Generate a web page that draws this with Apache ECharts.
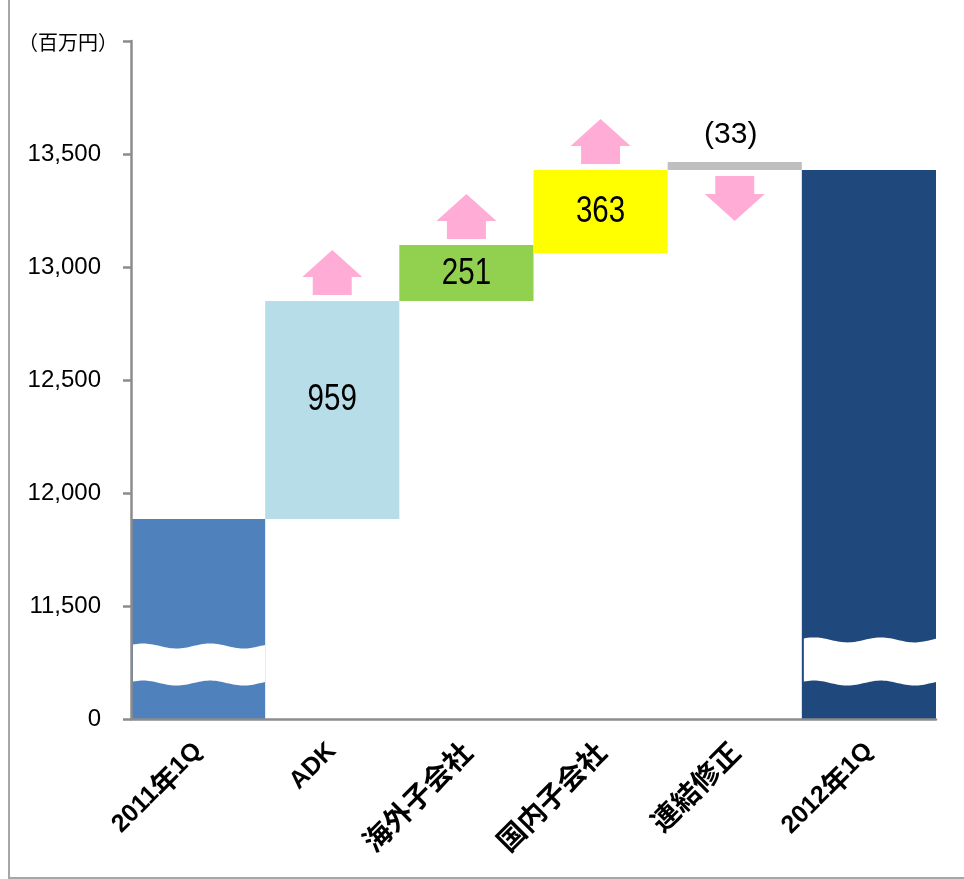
<!DOCTYPE html>
<html>
<head>
<meta charset="utf-8">
<script src="https://cdn.jsdelivr.net/npm/echarts@6/dist/echarts.min.js"></script>
<style>
html,body{margin:0;padding:0;background:#fff;}
#chart{width:964px;height:879px;}
</style>
</head>
<body>
<div id="chart"></div>
<script>
// ---- data ----
const categories = ['2011年1Q', 'ADK', '海外子会社', '国内子会社', '連結修正', '2012年1Q'];
const barLow  = [11000, 11885, 12850, 13062, 13429, 11000];
const barHigh = [11885, 12850, 13097, 13429, 13465, 13429];
const changeLabels = ['', '959', '251', '363', '(33)', ''];
const arrowDir = [0, 1, 1, 1, -1, 0];
const barColors = ['#4F81BD', '#B7DEE8', '#92D050', '#FFFF00', '#BFBFBF', '#1F497D'];
const breakTop = [11323, null, null, null, null, 11350];
const breakBottom = [11159, null, null, null, null, 11159];
const yTicks = {11000: '0', 14000: ''};

const chart = echarts.init(document.getElementById('chart'));

function fmtY(v) {
  if (yTicks[v] !== undefined) return yTicks[v];
  return v.toLocaleString('en-US');
}

function xLabel(v) {
  let out = '';
  const parts = v.match(/[\u3000-\u9fff]+|[^\u3000-\u9fff]+/g) || [];
  parts.forEach(p => {
    out += /[\u3000-\u9fff]/.test(p) ? '{c|' + p + '}' : '{a|' + p + '}';
  });
  return out;
}

function renderBreak(params, api) {
  const i = api.value(0);
  const t = api.coord([i, api.value(1)]);
  const b = api.coord([i, api.value(2)]);
  const w = api.size([1, 0])[0];
  const x0 = t[0] - w / 2 + 2, x1 = t[0] + w / 2;
  const P = w / 2, A = 2.5;
  const f = x => A * Math.cos(2 * Math.PI * (x - x0 - 10) / P);
  const pts = [];
  for (let x = x0; x < x1; x += 2) pts.push([x, t[1] - f(x)]);
  pts.push([x1, t[1] - f(x1)]);
  pts.push([x1, b[1] - f(x1)]);
  for (let x = x1; x > x0; x -= 2) pts.push([x, b[1] - f(x)]);
  pts.push([x0, b[1] - f(x0)]);
  return {type: 'polygon', shape: {points: pts}, style: {fill: '#ffffff'}};
}

function renderArrow(params, api) {
  const i = api.value(0), v = api.value(1), dir = api.value(2);
  const c = api.coord([i, v]);
  const cx = c[0], W = 60, S = 39, H = 27, T = 18, gap = 6;
  let pts;
  if (dir > 0) {
    const b = c[1] - gap;
    pts = [[cx - S / 2, b], [cx - S / 2, b - T], [cx - W / 2, b - T], [cx, b - T - H],
           [cx + W / 2, b - T], [cx + S / 2, b - T], [cx + S / 2, b]];
  } else {
    const t = c[1] + gap;
    pts = [[cx - S / 2, t], [cx + S / 2, t], [cx + S / 2, t + T], [cx + W / 2, t + T],
           [cx, t + T + H], [cx - W / 2, t + T], [cx - S / 2, t + T]];
  }
  return {type: 'polygon', shape: {points: pts}, style: {fill: '#FFADD6'}};
}

function renderLabel(params, api) {
  const i = api.value(0);
  const lo = api.coord([i, api.value(1)]);
  const hi = api.coord([i, api.value(2)]);
  const text = changeLabels[i];
  let x = lo[0], y, size, sx;
  if (arrowDir[i] < 0) {
    y = hi[1] - 27; size = 30; sx = 1.0; x -= 4;
  } else {
    y = (lo[1] + hi[1]) / 2 - (i === 1 ? 10 : -1); size = 36; sx = 0.82;
  }
  return {
    type: 'text', x: x, y: y, scaleX: sx,
    style: {text: text, fontFamily: 'Liberation Sans', fontSize: size, fill: '#000',
            align: 'center', verticalAlign: 'middle'}
  };
}

const deltaData = categories.map((c, i) => ({value: barHigh[i] - barLow[i], itemStyle: {color: barColors[i]}}));

const breakData = [];
breakTop.forEach((v, i) => { if (v !== null) breakData.push([i, v, breakBottom[i]]); });
const arrowData = [];
arrowDir.forEach((d, i) => {
  if (d > 0) arrowData.push([i, barHigh[i], 1]);
  else if (d < 0) arrowData.push([i, barLow[i], -1]);
});
const labelData = [];
changeLabels.forEach((t, i) => { if (t) labelData.push([i, barLow[i], barHigh[i]]); });

const axisGray = '#8C8C8C';

chart.setOption({
  animation: false,
  backgroundColor: '#ffffff',
  title: {
    text: '（百万円）',
    left: 13, top: 27,
    textStyle: {fontFamily: 'Noto Sans CJK JP', fontSize: 20, fontWeight: 'normal', color: '#000'}
  },
  graphic: [{
    type: 'rect', z: 100, silent: true,
    shape: {x: 9, y: -5, width: 1000, height: 883},
    style: {fill: 'none', stroke: '#A6A6A6', lineWidth: 2}
  }],
  grid: {left: 131, right: 28, top: 41, bottom: 160, containLabel: false},
  xAxis: {
    type: 'category',
    data: categories,
    z: 10,
    axisLine: {lineStyle: {color: axisGray, width: 2.5}},
    axisTick: {length: 8, lineStyle: {color: axisGray, width: 2.5}},
    axisLabel: {
      rotate: 45, margin: 28, interval: 0,
      formatter: xLabel,
      rich: {
        a: {fontFamily: 'Liberation Sans', fontWeight: 'bold', fontSize: 25, color: '#000'},
        c: {fontFamily: 'Noto Sans CJK JP', fontWeight: 'bold', fontSize: 28, color: '#000'}
      }
    }
  },
  yAxis: {
    type: 'value',
    min: 11000, max: 14000, interval: 500,
    z: 10,
    splitLine: {show: false},
    axisLine: {show: true, lineStyle: {color: axisGray, width: 2.5}},
    axisTick: {show: true, length: 8, lineStyle: {color: axisGray, width: 2.5}},
    axisLabel: {
      formatter: fmtY, margin: 30,
      fontFamily: 'Liberation Sans', fontSize: 24, color: '#000'
    }
  },
  series: [
    {
      type: 'bar', stack: 'w', data: barLow,
      itemStyle: {color: 'rgba(0,0,0,0)'},
      barWidth: '100%', barCategoryGap: 0, silent: true
    },
    {
      type: 'bar', stack: 'w', data: deltaData,
      barWidth: '100%', barCategoryGap: 0
    },
    {type: 'custom', renderItem: renderBreak, data: breakData, z: 3, silent: true},
    {type: 'custom', renderItem: renderArrow, data: arrowData, z: 3, silent: true},
    {type: 'custom', renderItem: renderLabel, data: labelData, z: 4, silent: true}
  ]
});
</script>
</body>
</html>
